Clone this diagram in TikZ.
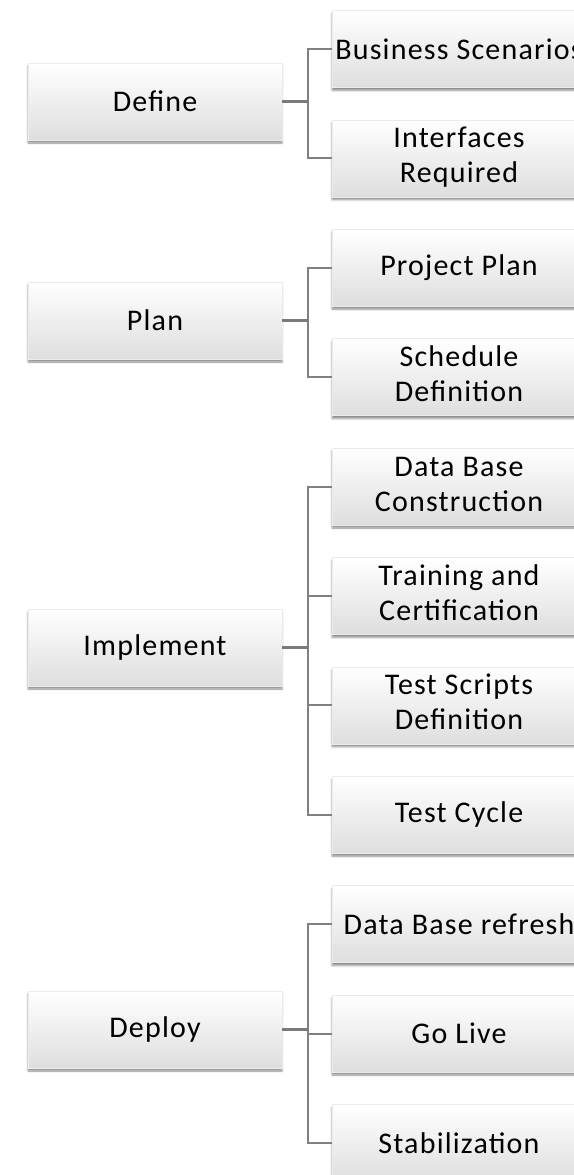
\documentclass[tikz,border=0pt]{standalone}
\usepackage{fontspec}
\setmainfont[LetterSpace=4]{Carlito}
\usepackage{tikz}
\usetikzlibrary{matrix, calc, shadows.blur}

\newcommand{\twoline}[2]{\begin{tabular}{@{}c@{}}#1\\#2\end{tabular}}

\tikzset{
  stage/.style={rectangle, draw=black!8, line width=.4pt,
    top color=white, middle color=white, bottom color=black!13,
    blur shadow={shadow xshift=0pt, shadow yshift=-3pt, shadow blur steps=6, shadow opacity=45},
    minimum width=254pt, minimum height=77pt, inner sep=0pt,
    font=\fontsize{30}{35}\selectfont},
  trunk/.style={draw=black!52, line width=3.6pt},
  twig/.style={draw=black!50, line width=2pt}
}

\begin{document}
\begin{tikzpicture}[x=1pt, y=1pt]
\useasboundingbox (0,0) rectangle (573,-1175);
\matrix (m) at (459,-10) [anchor=north, matrix of nodes, nodes={stage}, row sep=32pt, inner sep=0pt]{
Business Scenarios \\
\twoline{Interfaces}{Required} \\
Project Plan \\
\twoline{Schedule}{Definition} \\
\twoline{Data Base}{Construction} \\
\twoline{Training and}{Certification} \\
\twoline{Test Scripts}{Definition} \\
Test Cycle \\
Data Base refresh \\
Go Live \\
Stabilization \\
};
\node[stage] (define) at (155,-101.5) {Define};
\node[stage] (plan) at (155,-320.5) {Plan};
\node[stage] (impl) at (155,-647.5) {Implement};
\node[stage] (deploy) at (155,-1029.5) {Deploy};
% joints
\draw[twig] (define.east) ++(26,0) coordinate (j1) |- (m-1-1.west);
\draw[twig] (j1) |- (m-2-1.west);
\draw[twig] (plan.east) ++(26,0) coordinate (j2) |- (m-3-1.west);
\draw[twig] (j2) |- (m-4-1.west);
\draw[twig] (impl.east) ++(26,0) coordinate (j3);
\foreach \r in {5,...,8} \draw[twig] (j3) |- (m-\r-1.west);
\draw[twig] (deploy.east) ++(26,0) coordinate (j4);
\foreach \r in {9,10,11} \draw[twig] (j4) |- (m-\r-1.west);
\draw[trunk] (define.east) -- (j1);
\draw[trunk] (plan.east) -- (j2);
\draw[trunk] (impl.east) -- (j3);
\draw[trunk] (deploy.east) -- (j4);
\end{tikzpicture}
\end{document}
